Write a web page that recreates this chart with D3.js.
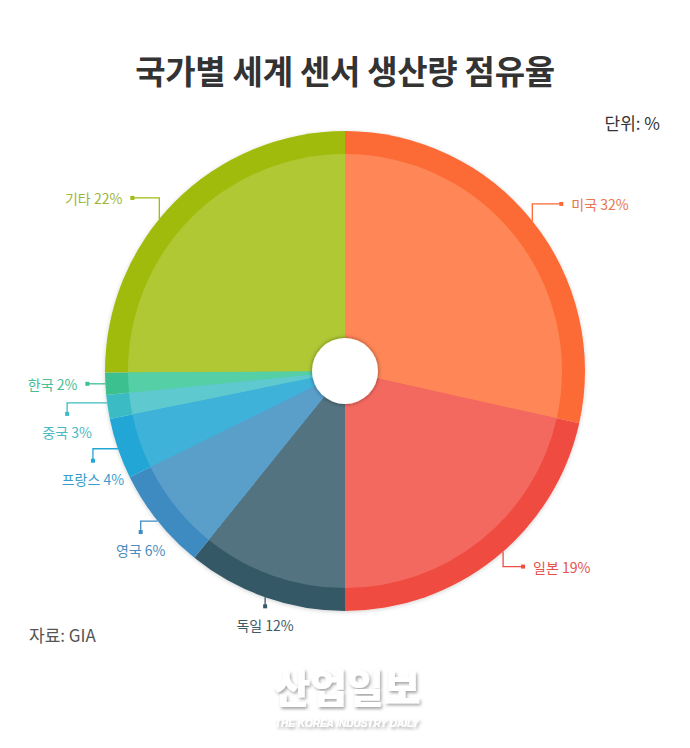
<!DOCTYPE html>
<html><head><meta charset="utf-8">
<script src="https://cdn.jsdelivr.net/npm/d3@7"></script>
<style>
html,body{margin:0;padding:0;background:#fff;}
svg{display:block;font-family:"Noto Sans CJK KR","Noto Sans",sans-serif;}
</style></head>
<body><svg id="chart" width="690" height="748"></svg>
<script>
// ---- data ----
const countries = ["미국", "일본", "독일", "영국", "프랑스", "중국", "한국", "기타"];
const labelPercents = [32, 19, 12, 6, 4, 3, 2, 22];
// slice sizes as they are drawn in the picture (estimated share of the circle, %)
const sliceShares = [28.5, 21.5, 10.8, 6.9, 4.1, 1.6, 1.5, 25.1];
const innerColors = ["#FE8657", "#F4695F", "#52737F", "#5A9ECA", "#3EB2D9", "#5ECACF", "#55CFA6", "#B0C834"];
const ringColors  = ["#FC6A36", "#EF4C41", "#345866", "#3E8BC1", "#22A6D5", "#3BBCC4", "#3EC08F", "#A1BB0B"];
const labelColors = ["#E8764E", "#E5524A", "#3E5A66", "#4A8DBF", "#3A9ECC", "#4BBAC2", "#45C095", "#9CB63A"];
const titleText = "국가별 세계 센서 생산량 점유율";
const unitText = "단위: %";
const sourceText = "자료: GIA";

// ---- layout ----
const W = 690, H = 748;
const cx = 345, cy = 371;
const rOuter = 240, rRing = 217, rHole = 33;
// leader-line layout per label: angle tweak (deg), elbow offsets, text placement
const leaderLayout = [
  {da: 0,    pts: [[0,-17],[29,-17]], text: {dx: 10, dy: 0, anchor: "start"}},
  {da: -2.5, pts: [[0,15],[20,15]],   text: {dx: 10, dy: 0, anchor: "start"}},
  {da: 0,    pts: [[0,9]],            text: {dx: 0, dy: 19, anchor: "middle"}},
  {da: 0,    pts: [[-17,0],[-17,11]], text: {dx: 0, dy: 18, anchor: "middle"}},
  {da: 0,    pts: [[-25,0],[-25,12]], text: {dx: 0, dy: 18, anchor: "middle"}},
  {da: 1,    pts: [[-40,0],[-40,11]], text: {dx: 0, dy: 18, anchor: "middle"}},
  {da: 0,    pts: [[-18,0]],          text: {dx: -10, dy: 0, anchor: "end"}},
  {da: -5.5, pts: [[0,-21],[-27,-21]],text: {dx: -10, dy: 0, anchor: "end"}}
];

const svg = d3.select("#chart");
const defs = svg.append("defs");
const f1 = defs.append("filter").attr("id","pieShadow").attr("x","-20%").attr("y","-20%").attr("width","140%").attr("height","140%");
f1.append("feDropShadow").attr("dx",0).attr("dy",1).attr("stdDeviation",2).attr("flood-color","#000").attr("flood-opacity",0.18);
const f2 = defs.append("filter").attr("id","holeShadow").attr("x","-50%").attr("y","-50%").attr("width","200%").attr("height","200%");
f2.append("feDropShadow").attr("dx",0).attr("dy",0).attr("stdDeviation",2.2).attr("flood-color","#000").attr("flood-opacity",0.45);
const f3 = defs.append("filter").attr("id","wmShadow").attr("x","-20%").attr("y","-40%").attr("width","140%").attr("height","180%");
f3.append("feDropShadow").attr("dx",1.5).attr("dy",2).attr("stdDeviation",1.5).attr("flood-color","#000").attr("flood-opacity",0.35);

// title
svg.append("text").attr("x", W/2).attr("y", 84).attr("text-anchor","middle")
  .attr("font-size", 33).attr("font-weight", 700).attr("fill","#333").attr("letter-spacing", -0.3)
  .text(titleText);
svg.append("text").attr("x", 660).attr("y", 130).attr("text-anchor","end")
  .attr("font-size", 17).attr("fill","#333").text(unitText);
svg.append("text").attr("x", 29).attr("y", 642)
  .attr("font-size", 17).attr("fill","#555").text(sourceText);

// pie
const pie = d3.pie().sort(null).value(d => d.share);
const data = countries.map((c,i) => ({name:c, pct: labelPercents[i], share: sliceShares[i], i}));
const arcs = pie(data);
const outerArc = d3.arc().innerRadius(0).outerRadius(rOuter);
const innerArc = d3.arc().innerRadius(0).outerRadius(rRing);

const g = svg.append("g").attr("transform", `translate(${cx},${cy})`);
const pg = g.append("g").attr("filter","url(#pieShadow)");
pg.selectAll("path.ring").data(arcs).join("path").attr("class","ring")
  .attr("d", outerArc).attr("fill", d => ringColors[d.index]);
g.selectAll("path.inner").data(arcs).join("path").attr("class","inner")
  .attr("d", innerArc).attr("fill", d => innerColors[d.index]);
g.append("circle").attr("r", rHole).attr("fill","#fff").attr("filter","url(#holeShadow)");

// leader lines & labels
arcs.forEach((a, k) => {
  const L = leaderLayout[k];
  const ang = (a.startAngle + a.endAngle)/2 + L.da*Math.PI/180;
  const ax = cx + rOuter*Math.sin(ang), ay = cy - rOuter*Math.cos(ang);
  const pts = [[ax,ay]].concat(L.pts.map(p => [ax+p[0], ay+p[1]]));
  const col = labelColors[k];
  svg.append("path").attr("d", d3.line()(pts)).attr("fill","none")
    .attr("stroke", ringColors[k]).attr("stroke-width", 1.3);
  const end = pts[pts.length-1];
  svg.append("rect").attr("x", end[0]-2).attr("y", end[1]-2).attr("width",4).attr("height",4)
    .attr("fill", ringColors[k]);
  svg.append("text").attr("x", end[0]+L.text.dx).attr("y", end[1]+L.text.dy)
    .attr("text-anchor", L.text.anchor).attr("dominant-baseline","central")
    .attr("font-size", 14).attr("fill", col)
    .text(`${a.data.name} ${a.data.pct}%`);
});

// watermark
svg.append("text").attr("x", 347).attr("y", 703).attr("text-anchor","middle")
  .attr("font-size", 40).attr("font-weight", 900).attr("fill","#fff").attr("filter","url(#wmShadow)")
  .attr("letter-spacing", 0).text("산업일보");
svg.append("text").attr("x", 347).attr("y", 727).attr("text-anchor","middle")
  .attr("font-size", 10).attr("font-weight", 700).attr("font-style","italic").attr("fill","#fff")
  .attr("filter","url(#wmShadow)").attr("font-family","'Liberation Sans',Arial,sans-serif")
  .text("THE KOREA INDUSTRY DAILY");
</script></body></html>
